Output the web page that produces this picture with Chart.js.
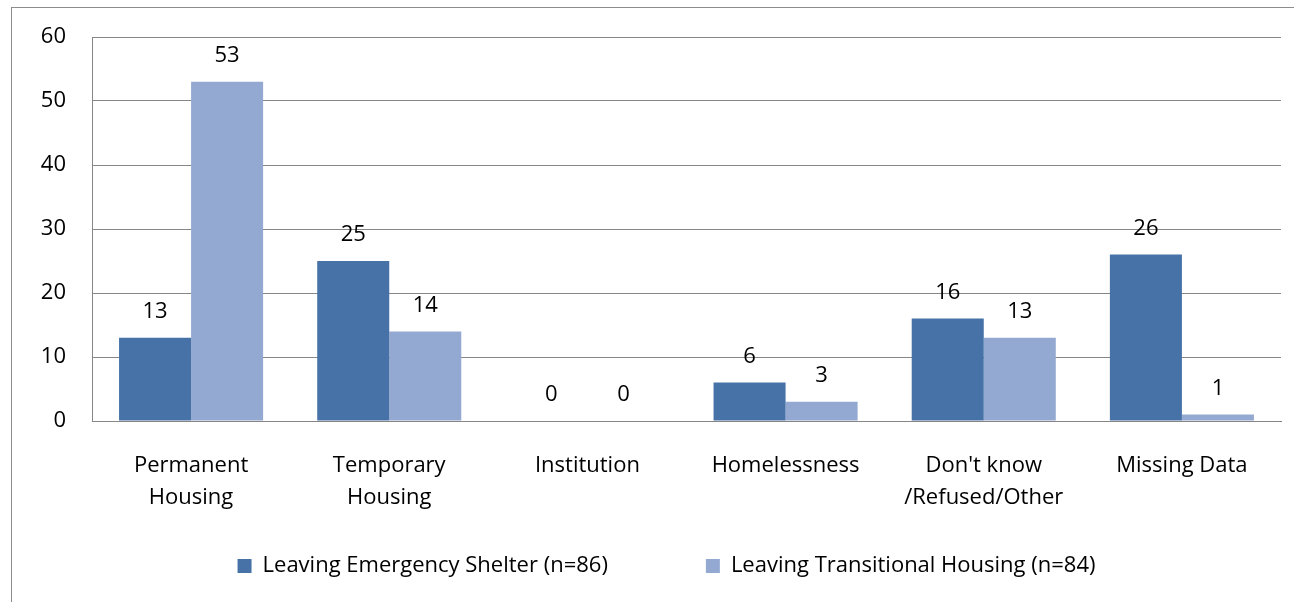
<!DOCTYPE html>
<html>
<head>
<meta charset="utf-8">
<script src="https://cdn.jsdelivr.net/npm/chart.js@4"></script>
<style>
    html, body { margin: 0; padding: 0; background: #fff; overflow: hidden; }
    #frame {
        position: absolute;
        left: 11px;
        top: 7px;
        width: 1309px;
        height: 620px;
        border: 1px solid #8c8c8c;
    }
    #chart { display: block; }
</style>
</head>
<body>
<div id="frame"><canvas id="chart" width="1309" height="600"></canvas></div>
<script>
const categories = [
    ["Permanent", "Housing"],
    ["Temporary", "Housing"],
    "Institution",
    "Homelessness",
    ["Don't know", "/Refused/Other"],
    "Missing Data"
];
const shelterLabel = "Leaving Emergency Shelter (n=86)";
const transitionalLabel = "Leaving Transitional Housing (n=84)";
const shelterValues = [13, 25, 0, 6, 16, 26];
const transitionalValues = [53, 14, 0, 3, 13, 1];
const yTicks = [0, 10, 20, 30, 40, 50, 60];

const FONT = "'Open Sans', sans-serif";
const GRID = "#868686";

// draws the value above each bar
const valueLabels = {
    id: "valueLabels",
    afterDatasetsDraw(chart) {
        const ctx = chart.ctx;
        ctx.save();
        ctx.font = "22px " + FONT;
        ctx.fillStyle = "#000";
        ctx.textAlign = "center";
        ctx.textBaseline = "middle";
        chart.data.datasets.forEach((ds, i) => {
            chart.getDatasetMeta(i).data.forEach((bar, j) => {
                ctx.fillText(ds.data[j], bar.x, bar.y - 26);
            });
        });
        ctx.restore();
    }
};

let chartEle = document.getElementById("chart");
let chart = new Chart(chartEle, {
    type: "bar",
    data: {
        labels: categories,
        datasets: [
            {
                label: shelterLabel,
                data: shelterValues,
                backgroundColor: "#4672a8",
                borderWidth: 0
            },
            {
                label: transitionalLabel,
                data: transitionalValues,
                backgroundColor: "#94a9d1",
                borderWidth: 0
            }
        ]
    },
    options: {
        responsive: false,
        animation: false,
        layout: {
            padding: { top: 29, right: 0, bottom: 21, left: 0 }
        },
        datasets: {
            bar: { categoryPercentage: 0.727, barPercentage: 1.0 }
        },
        scales: {
            x: {
                grid: { display: false, drawTicks: false },
                border: { color: GRID, width: 1 },
                ticks: {
                    color: "#000",
                    font: { family: FONT, size: 22, lineHeight: 1.45 },
                    padding: 29,
                    maxRotation: 0,
                    autoSkip: false
                },
                afterFit: (scale) => { scale.height = 124; }
            },
            y: {
                min: 0,
                max: 60,
                afterBuildTicks: (scale) => { scale.ticks = yTicks.map((v) => ({ value: v })); },
                grid: { color: GRID, lineWidth: 1, drawTicks: false },
                border: { color: GRID, width: 1 },
                ticks: {
                    color: "#000",
                    font: { family: FONT, size: 22 },
                    padding: 26
                },
                afterFit: (scale) => {
                    scale.width = 80;
                    scale.paddingTop = 0;
                    scale.paddingBottom = 0;
                }
            },
            // empty right-hand box, keeps the plot narrower than the legend row
            spacer: {
                type: "linear",
                position: "right",
                display: true,
                grid: { display: false, drawTicks: false },
                border: { display: false },
                ticks: { display: false },
                afterFit: (scale) => {
                    scale.width = 40;
                    scale.paddingTop = 0;
                    scale.paddingBottom = 0;
                }
            }
        },
        plugins: {
            legend: {
                position: "bottom",
                labels: {
                    color: "#000",
                    font: { family: FONT, size: 22 },
                    boxWidth: 14,
                    boxHeight: 14,
                    padding: 10,
                    generateLabels: (c) => {
                        const items = Chart.defaults.plugins.legend.labels.generateLabels(c);
                        items[0].text += "\u2003\u2003\u2003\u2003";
                        return items;
                    }
                }
            },
            tooltip: { enabled: false }
        }
    },
    plugins: [valueLabels]
});
</script>
</body>
</html>
